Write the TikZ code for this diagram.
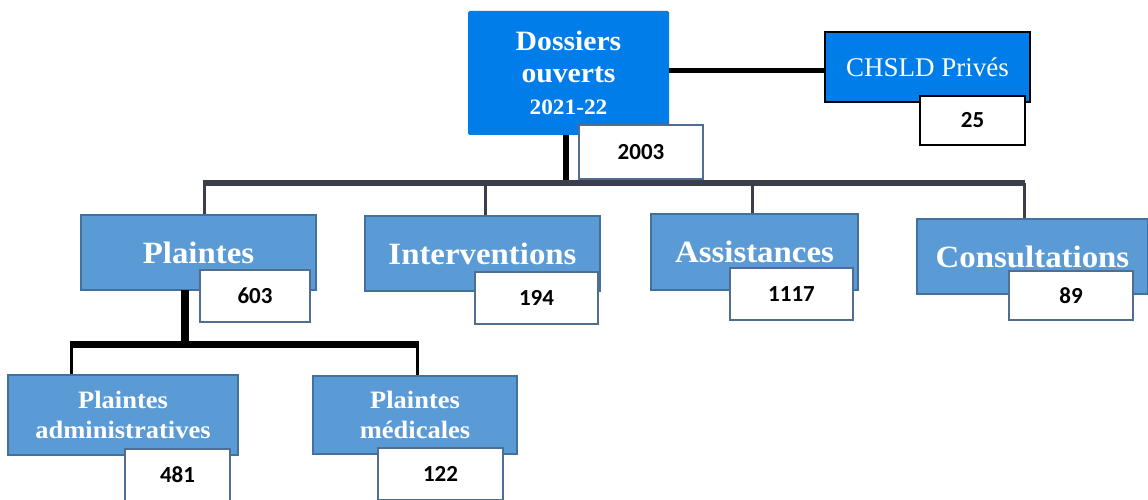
\documentclass[tikz,border=0pt]{standalone}
\usepackage{fontspec}
\setmainfont{Liberation Serif}[BoldFeatures={FakeStretch=1.06}]
\newfontfamily\numfont{Carlito}
\usetikzlibrary{positioning}

\definecolor{topblue}{RGB}{0,125,232}
\definecolor{catblue}{RGB}{91,155,213}
\definecolor{catedge}{RGB}{65,113,156}
\definecolor{numedge}{RGB}{80,110,145}
\definecolor{bargray}{RGB}{58,63,75}

\tikzset{
  topbox/.style={fill=topblue, text=white, align=center, inner sep=0pt},
  catbox/.style={fill=catblue, draw=catedge, line width=1.5pt, text=white, align=center, inner sep=0pt,
                 font=\bfseries\fontsize{31}{34}\selectfont},
  subbox/.style={catbox, font=\bfseries\fontsize{25}{30}\selectfont},
  numbox/.style={fill=white, draw=numedge, line width=1.5pt, font=\numfont\bfseries\fontsize{23}{25}\selectfont, inner sep=0pt},
  heavy/.style={line width=5pt, black},
  bar/.style={line width=6pt, bargray},
  drop/.style={line width=3pt, bargray},
  subbar/.style={line width=7pt, black},
  subdrop/.style={line width=3pt, black}
}

\begin{document}
\begin{tikzpicture}[x=1pt, y=-1pt]
    \useasboundingbox (0,0) rectangle (1148,500);

    % Connectors (behind the boxes)
    \coordinate (barL) at (204,183);
    \coordinate (barR) at (1024,183);
    \coordinate (barI) at (485,183);
    \coordinate (barA) at (752,183);
    \coordinate (subL) at (71,344);
    \coordinate (subR) at (417,344);

    % Nodes
    \node[topbox, rounded corners=1.5pt, font=\bfseries\fontsize{28}{32}\selectfont,
          minimum width=201, minimum height=124] (dos) at (568.5,73)
        {Dossiers\\ouverts\\{\fontsize{22}{32}\selectfont 2021-22}};
    \node[topbox, draw=black, line width=1.5pt, font=\fontsize{27}{30}\selectfont,
          minimum width=205, minimum height=70] (chsld) at (927.5,67) {CHSLD Privés};

    \draw[heavy] (dos.east |- 0,71) -- (chsld.west |- 0,71);
    \draw[heavy, line width=6pt] (566,135) -- (566,183);
    \draw[bar] ([xshift=-1]barL) -- ([xshift=1]barR);

    \node[catbox, minimum width=235, minimum height=75] (plaintes) at (198.5,252.5) {Plaintes};
    \node[catbox, minimum width=235, minimum height=75] (interv) at (482.5,253.5) {Interventions};
    \node[catbox, minimum width=207, minimum height=76] (assist) at (754.5,252) {Assistances};
    \node[catbox, minimum width=231, minimum height=75] (consult) at (1032.5,256.5) {Consultations};

    \path[drop]
        (barL) edge (barL |- plaintes.north)
        (barI) edge (barI |- interv.north)
        (barA) edge (barA |- assist.north)
        (barR) edge (barR |- consult.north);

    \draw[heavy, line width=8pt] (185,290) -- (185,344);
    \draw[subbar] ([xshift=-1.5]subL) -- ([xshift=1.5]subR);

    \node[subbox, minimum width=230, minimum height=80] (padmin) at (123,415) {Plaintes\\administratives};
    \node[subbox, minimum width=204, minimum height=78] (pmed) at (415,415) {Plaintes\\médicales};

    \path[subdrop]
        (subL) edge (subL |- padmin.north)
        (subR) edge (subR |- pmed.north);

    % Counts
    \node[numbox, minimum width=124, minimum height=54] (n2003) at (641,152) {2003};
    \node[numbox, draw=black, minimum width=105, minimum height=49] (n25) at (972.5,120.5) {25};
    \node[numbox, minimum width=110, minimum height=52] (n603) at (255,296) {603};
    \node[numbox, minimum width=123, minimum height=52] (n194) at (536.5,298) {194};
    \node[numbox, minimum width=123, minimum height=52] (n1117) at (791.5,294) {1117};
    \node[numbox, minimum width=124, minimum height=49] (n89) at (1071,295.5) {89};
    \node[numbox, minimum width=105, minimum height=52] (n481) at (177.5,475) {481};
    \node[numbox, minimum width=125, minimum height=52] (n122) at (440.5,474) {122};
\end{tikzpicture}
\end{document}
